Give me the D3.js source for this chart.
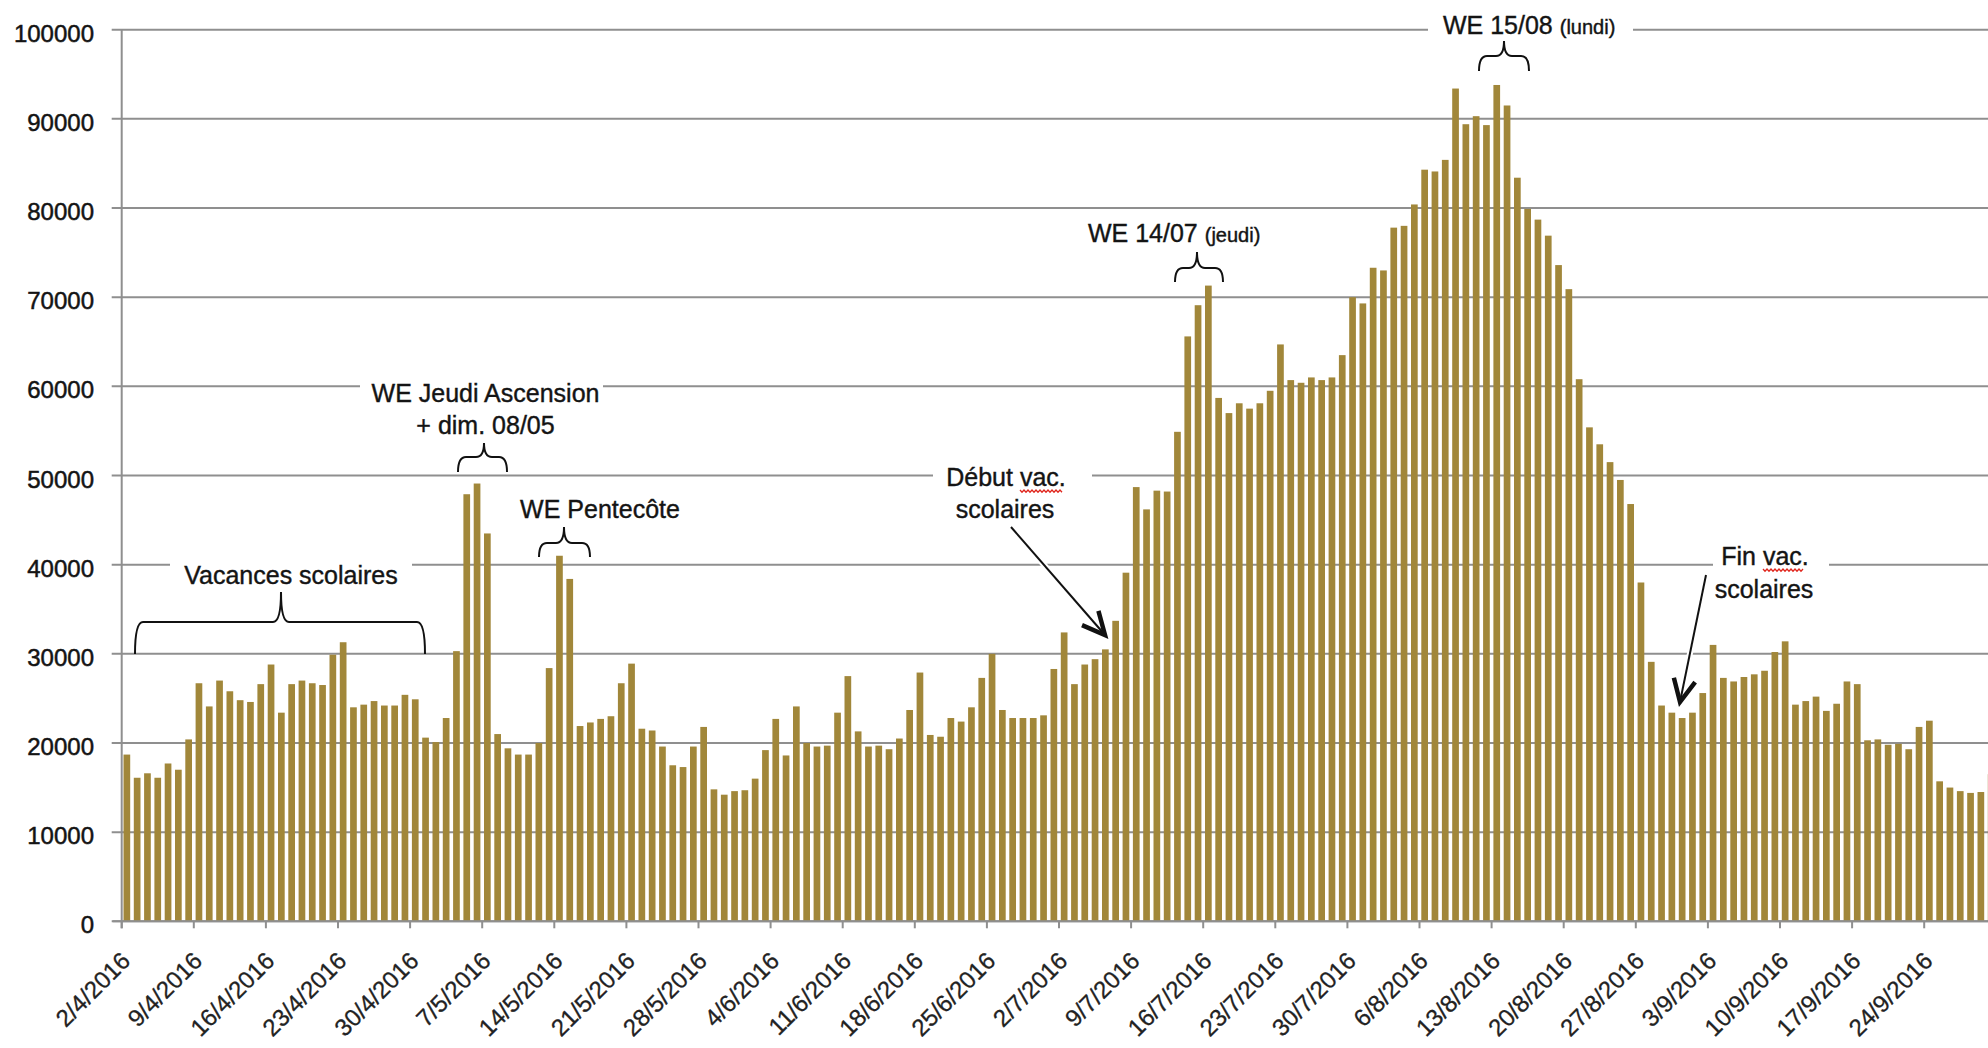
<!DOCTYPE html>
<html><head><meta charset="utf-8">
<script src="https://cdn.jsdelivr.net/npm/d3@7"></script>
<style>html,body{margin:0;padding:0;background:#fff;overflow:hidden}</style>
</head><body><svg id="c" width="1988" height="1048"></svg>
<script>
// ---- data ----
const startDate = "2016-04-02";
const values = [
18700,16100,16600,16100,17700,17000,20400,26700,24100,27000,
25800,24800,24600,26600,28800,23400,26600,27000,26700,26500,
29900,31300,24000,24300,24700,24200,24200,25400,24900,20600,
20100,22800,30300,47900,49100,43500,21000,19400,18700,18700,
20000,28400,41000,38400,21900,22300,22700,23000,26700,28900,
21600,21400,19600,17500,17300,19600,21800,14800,14200,14600,
14700,16000,19200,22700,18600,24100,20000,19600,19700,23400,
27500,21300,19600,19700,19300,20500,23700,27900,20900,20700,
22800,22400,24000,27300,30000,23700,22800,22800,22800,23100,
28300,32400,26600,28800,29400,30500,33700,39100,48700,46200,
48300,48200,54900,65600,69100,71300,58700,57000,58100,57500,
58100,59500,64700,60700,60400,61000,60700,61000,63500,70000,
69300,73300,73000,77800,78000,80400,84300,84100,85400,93400,
89400,90300,89300,93800,91500,83400,79900,78700,76900,73600,
70900,60800,55400,53500,51500,49500,46800,38000,29100,24200,
23400,22800,23400,25600,31000,27300,26900,27400,27700,28100,
30200,31400,24300,24700,25200,23600,24400,26900,26600,20300,
20400,19800,19900,19300,21800,22500,15700,15000,14600,14400,
14500,16500];
const yTickValues = [0,10000,20000,30000,40000,50000,60000,70000,80000,90000,100000];
const yTickLabels = ["0","10000","20000","30000","40000","50000","60000","70000","80000","90000","100000"];
const xTickLabels = ["2/4/2016","9/4/2016","16/4/2016","23/4/2016","30/4/2016","7/5/2016","14/5/2016","21/5/2016","28/5/2016","4/6/2016","11/6/2016","18/6/2016","25/6/2016","2/7/2016","9/7/2016","16/7/2016","23/7/2016","30/7/2016","6/8/2016","13/8/2016","20/8/2016","27/8/2016","3/9/2016","10/9/2016","17/9/2016","24/9/2016"];
const xTickEvery = 7;

const fmt = d3.timeFormat("%-d/%-m/%Y");
const t0 = d3.timeParse("%Y-%m-%d")(startDate);
const categories = d3.timeDay.range(t0, d3.timeDay.offset(t0, values.length)).map(fmt);

// ---- layout ----
const W = 1988, H = 1048;
const X0 = 121.7, STEP = 10.3, Y0 = 921.3, Y1 = 29.7;
const FONT = "'Liberation Sans', Arial, sans-serif";
const GRID = "#8f8f8f", BAR = "#a1873a", TXT = "#141414";

const svg = d3.select("#c");
const x = d3.scaleBand().domain(categories)
  .range([X0, X0 + STEP * categories.length]).paddingInner(0.35).paddingOuter(0.175);
const xEdge = d3.scaleLinear().domain([0, categories.length]).range([X0, X0 + STEP * categories.length]);
const y = d3.scaleLinear().domain([0, 100000]).range([Y0, Y1]);

// gridlines
svg.append("g").selectAll("line").data(yTickValues).join("line")
  .attr("x1", X0 - 10).attr("x2", W).attr("y1", d => y(d)).attr("y2", d => y(d))
  .attr("stroke", GRID).attr("stroke-width", 2);

// white label boxes that interrupt gridlines
const boxes = [[170,555,242,37],[360,376,243,64],[1428,10,205,34],[933,462,159,63],[1713,540,116,65]];
svg.append("g").selectAll("rect").data(boxes).join("rect")
  .attr("x", d => d[0]).attr("y", d => d[1]).attr("width", d => d[2]).attr("height", d => d[3])
  .attr("fill", "#fff");

// bars
svg.append("g").selectAll("rect").data(values).join("rect")
  .attr("x", (d, i) => x(categories[i])).attr("width", x.bandwidth())
  .attr("y", d => y(d)).attr("height", d => y(0) - y(d))
  .attr("fill", BAR);

// axes
svg.append("line").attr("x1", X0).attr("x2", X0).attr("y1", Y1).attr("y2", Y0 + 7)
  .attr("stroke", GRID).attr("stroke-width", 2);
svg.append("line").attr("x1", X0 - 9).attr("x2", W).attr("y1", Y0).attr("y2", Y0)
  .attr("stroke", GRID).attr("stroke-width", 2);
const xt = d3.range(xTickLabels.length);
svg.append("g").selectAll("line").data(xt).join("line")
  .attr("x1", k => xEdge(k * xTickEvery)).attr("x2", k => xEdge(k * xTickEvery))
  .attr("y1", Y0).attr("y2", Y0 + 7).attr("stroke", GRID).attr("stroke-width", 2);

// y labels
svg.append("g").selectAll("text").data(yTickValues).join("text")
  .attr("x", 94).attr("y", d => y(d) + 12).attr("text-anchor", "end")
  .attr("font-family", FONT).attr("font-size", 24).attr("fill", TXT)
  .attr("stroke", TXT).attr("stroke-width", 0.5)
  .text((d, i) => yTickLabels[i]);

// x labels
svg.append("g").selectAll("text").data(xt).join("text")
  .attr("transform", k => `translate(${xEdge(k * xTickEvery) + 10},${Y0 + 41}) rotate(-45)`)
  .attr("text-anchor", "end").attr("font-family", FONT).attr("font-size", 24).attr("fill", "#222")
  .attr("stroke", "#222").attr("stroke-width", 0.3)
  .text(k => xTickLabels[k]);

// ---- annotations ----
const texts = [
  {t:"Vacances scolaires", x:291, y:584},
  {t:"WE Jeudi Ascension", x:485.5, y:402},
  {t:"+ dim. 08/05", x:485.5, y:434},
  {t:"WE Pentecôte", x:600, y:518},
  {t:"Début vac.", x:1006, y:486},
  {t:"scolaires", x:1005, y:518},
  {t:"Fin vac.", x:1765, y:565},
  {t:"scolaires", x:1764, y:598}
];
svg.append("g").selectAll("text").data(texts).join("text")
  .attr("x", d => d.x).attr("y", d => d.y).attr("text-anchor", "middle")
  .attr("font-family", FONT).attr("font-size", 25).attr("fill", TXT)
  .attr("stroke", TXT).attr("stroke-width", 0.4).text(d => d.t);

[{a:"WE 14/07", b:"(jeudi)", x:1088, y:242},{a:"WE 15/08", b:"(lundi)", x:1443, y:34}].forEach(d => {
  const t = svg.append("text").attr("x", d.x).attr("y", d.y).attr("font-family", FONT).attr("fill", TXT)
    .attr("stroke", TXT).attr("stroke-width", 0.4);
  t.append("tspan").attr("font-size", 25).text(d.a + " ");
  t.append("tspan").attr("font-size", 20).text(d.b);
});

// braces
function brace(x1, x2, xm, yH, yTip, yEnd) {
  const r = Math.min(8, (x2 - x1) / 5);
  return `M${x1},${yEnd} Q${x1},${yH} ${x1 + r},${yH} L${xm - r},${yH} Q${xm},${yH} ${xm},${yTip} ` +
         `Q${xm},${yH} ${xm + r},${yH} L${x2 - r},${yH} Q${x2},${yH} ${x2},${yEnd}`;
}
const braces = [[135,425,281,622,592,654],[458,507,484,457,443,472],[539,590,564,543,527,557],
                [1175,1223,1197,268,252,282],[1479,1529,1504,56,41,71]];
svg.append("g").selectAll("path").data(braces).join("path")
  .attr("d", d => brace(...d)).attr("fill", "none").attr("stroke", "#111").attr("stroke-width", 2);

// red spell-check squiggles
function squiggle(x1, x2, yy) {
  let p = `M${x1},${yy}`;
  for (let xx = x1 + 2, k = 0; xx <= x2; xx += 2, k++) p += ` L${xx},${yy + (k % 2 ? 0 : 2.2)}`;
  return p;
}
[[1020,1062,490],[1763,1803,569]].forEach(s =>
  svg.append("path").attr("d", squiggle(...s)).attr("fill", "none").attr("stroke", "#e0261d").attr("stroke-width", 1.3));

// arrows
function arrow(x1, y1, x2, y2) {
  const g = svg.append("g");
  const ang = Math.atan2(y2 - y1, x2 - x1), L = 25, spread = 0.45;
  const h1 = [x2 - L * Math.cos(ang - spread), y2 - L * Math.sin(ang - spread)];
  const h2 = [x2 - L * Math.cos(ang + spread), y2 - L * Math.sin(ang + spread)];
  const head = `M${h1[0]},${h1[1]} L${x2},${y2} L${h2[0]},${h2[1]}`;
  g.append("line").attr("x1", x1).attr("y1", y1).attr("x2", x2).attr("y2", y2)
    .attr("stroke", "#fff").attr("stroke-width", 6);
  g.append("path").attr("d", head).attr("fill", "none").attr("stroke", "#fff").attr("stroke-width", 10)
    .attr("stroke-linejoin", "round").attr("stroke-linecap", "round");
  g.append("line").attr("x1", x1).attr("y1", y1).attr("x2", x2).attr("y2", y2)
    .attr("stroke", "#111").attr("stroke-width", 2);
  g.append("path").attr("d", head).attr("fill", "none").attr("stroke", "#111").attr("stroke-width", 4.5)
    .attr("stroke-linejoin", "miter");
}
arrow(1011, 527, 1105, 635);
arrow(1706, 575, 1680, 702);
</script></body></html>
